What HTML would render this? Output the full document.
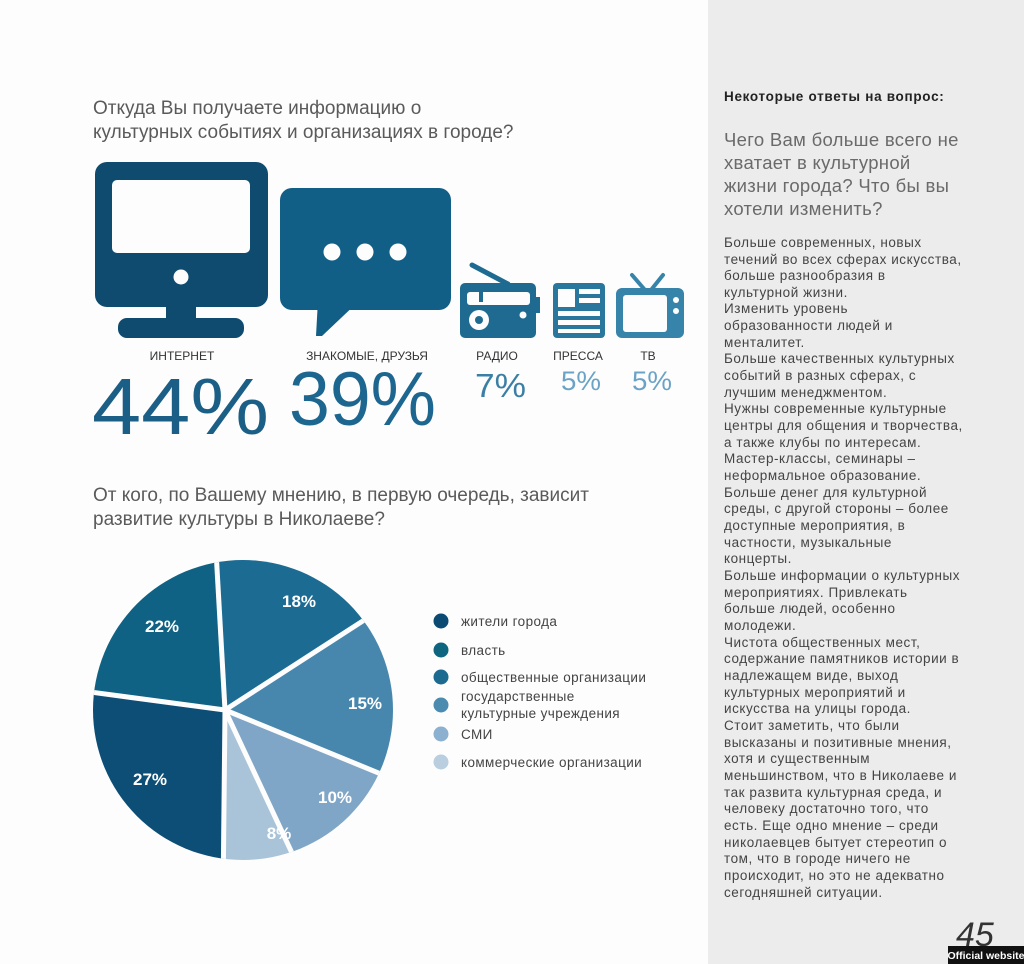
<!DOCTYPE html>
<html><head><meta charset="utf-8"><style>
html,body{margin:0;padding:0;background:#fdfdfd;}
svg{display:block;font-family:"Liberation Sans","DejaVu Sans",sans-serif;}
</style></head><body>
<svg width="1024" height="964" viewBox="0 0 1024 964" xmlns="http://www.w3.org/2000/svg">
<rect x="0" y="0" width="1024" height="964" fill="#fdfdfd"/>
<rect x="708" y="0" width="316" height="964" fill="#ececec"/>

<g fill="#5a5a5a" font-size="19">
<text x="93" y="114">Откуда Вы получаете информацию о</text>
<text x="93" y="138">культурных событиях и организациях в городе?</text>
<text x="93" y="501">От кого, по Вашему мнению, в первую очередь, зависит</text>
<text x="93" y="525">развитие культуры в Николаеве?</text>
</g>

<!-- Monitor -->
<rect x="95" y="162" width="173" height="145" rx="12" fill="#0e4b6e"/>
<rect x="112" y="180" width="138" height="73" rx="5" fill="#fdfdfd"/>
<circle cx="181" cy="277" r="7.5" fill="#fdfdfd"/>
<rect x="166" y="304" width="30" height="18" fill="#0e4b6e"/>
<rect x="118" y="318" width="126" height="20" rx="9" fill="#0e4b6e"/>

<!-- Speech bubble -->
<rect x="280" y="188" width="171" height="122" rx="12" fill="#115e86"/>
<polygon points="318,300 360,300 322,336 316,336" fill="#115e86"/>
<circle cx="332" cy="252" r="8.5" fill="#fdfdfd"/>
<circle cx="365" cy="252" r="8.5" fill="#fdfdfd"/>
<circle cx="398" cy="252" r="8.5" fill="#fdfdfd"/>

<!-- Radio -->
<line x1="472" y1="265" x2="508" y2="284" stroke="#1f6a91" stroke-width="5" stroke-linecap="round"/>
<rect x="460" y="283" width="76" height="55" rx="5" fill="#1f6a91"/>
<rect x="535" y="297" width="5" height="16" fill="#1f6a91"/>
<rect x="467" y="292" width="63" height="13" rx="3" fill="#fdfdfd"/>
<rect x="479" y="292" width="4" height="10" fill="#1f6a91"/>
<circle cx="479" cy="320" r="10" fill="#fdfdfd"/>
<circle cx="479" cy="320" r="4" fill="#1f6a91"/>
<circle cx="523" cy="315" r="3.5" fill="#fdfdfd"/>

<!-- Press -->
<rect x="553" y="283" width="52" height="55" rx="4" fill="#2a779e"/>
<rect x="558" y="289" width="17" height="18" fill="#fdfdfd"/>
<rect x="579" y="289" width="21" height="5" fill="#fdfdfd"/>
<rect x="579" y="298" width="21" height="5" fill="#fdfdfd"/>
<rect x="558" y="311" width="42" height="5" fill="#fdfdfd"/>
<rect x="558" y="320" width="42" height="5" fill="#fdfdfd"/>
<rect x="558" y="329" width="42" height="4" fill="#fdfdfd"/>

<!-- TV -->
<line x1="632" y1="275" x2="645" y2="290" stroke="#3784aa" stroke-width="4" stroke-linecap="round"/>
<line x1="663" y1="275" x2="651" y2="290" stroke="#3784aa" stroke-width="4" stroke-linecap="round"/>
<rect x="616" y="288" width="68" height="50" rx="6" fill="#3784aa"/>
<rect x="623" y="295" width="44" height="37" rx="3" fill="#fdfdfd"/>
<circle cx="676" cy="300" r="3" fill="#fdfdfd"/>
<circle cx="676" cy="311" r="3" fill="#fdfdfd"/>

<g fill="#333" font-size="12" text-anchor="middle">
<text x="182" y="360">ИНТЕРНЕТ</text>
<text x="367" y="360">ЗНАКОМЫЕ, ДРУЗЬЯ</text>
<text x="497" y="360">РАДИО</text>
<text x="578" y="360">ПРЕССА</text>
<text x="648" y="360">ТВ</text>
</g>
<text x="92" y="434" font-size="80" fill="#1b5f86" textLength="177" lengthAdjust="spacingAndGlyphs">44%</text>
<text x="289" y="425" font-size="76" fill="#1d668f" textLength="147" lengthAdjust="spacingAndGlyphs">39%</text>
<text x="475" y="397" font-size="33" fill="#3b7fa6" textLength="51" lengthAdjust="spacingAndGlyphs">7%</text>
<text x="561" y="390" font-size="27" fill="#6ba3c6" textLength="40" lengthAdjust="spacingAndGlyphs">5%</text>
<text x="632" y="390" font-size="27" fill="#6ba3c6" textLength="40" lengthAdjust="spacingAndGlyphs">5%</text>

<!-- Pie -->
<defs><clipPath id="pc"><circle cx="243" cy="710" r="150"/></clipPath></defs>
<g clip-path="url(#pc)">
<polygon points="225,710 212,480 420,480 420,584" fill="#1b6b93"/>
<polygon points="225,710 420,584 420,790" fill="#4887ad"/>
<polygon points="225,710 420,790 420,900 314,900" fill="#7fa6c6"/>
<polygon points="225,710 314,900 223,900" fill="#a9c4d8"/>
<polygon points="225,710 223,900 60,900 60,688" fill="#0d4e76"/>
<polygon points="225,710 60,688 60,480 212,480" fill="#0f6283"/>
<g stroke="#fdfdfd" stroke-width="5">
<line x1="225" y1="710" x2="212" y2="480"/>
<line x1="225" y1="710" x2="420" y2="584"/>
<line x1="225" y1="710" x2="420" y2="790"/>
<line x1="225" y1="710" x2="314" y2="900"/>
<line x1="225" y1="710" x2="223" y2="900"/>
<line x1="225" y1="710" x2="60" y2="688"/>
</g>
</g>
<g fill="#ffffff" font-size="17" font-weight="bold" text-anchor="middle">
<text x="299" y="607">18%</text>
<text x="162" y="632">22%</text>
<text x="365" y="709">15%</text>
<text x="150" y="785">27%</text>
<text x="335" y="803">10%</text>
<text x="279" y="839">8%</text>
</g>

<g font-size="13.5" fill="#444" letter-spacing="0.4">
<circle cx="441" cy="621" r="7.5" fill="#0b4a72"/><text x="461" y="626">жители города</text>
<circle cx="441" cy="650" r="7.5" fill="#0e6580"/><text x="461" y="655">власть</text>
<circle cx="441" cy="677" r="7.5" fill="#1c6a8f"/><text x="461" y="682">общественные организации</text>
<circle cx="441" cy="705" r="7.5" fill="#4c8bb0"/><text x="461" y="701">государственные</text><text x="461" y="718">культурные учреждения</text>
<circle cx="441" cy="734" r="7.5" fill="#8cb0cf"/><text x="461" y="739">СМИ</text>
<circle cx="441" cy="762" r="7.5" fill="#b9cedf"/><text x="461" y="767">коммерческие организации</text>
</g>

<text x="724" y="101" font-size="13.5" font-weight="bold" fill="#222" letter-spacing="0.7">Некоторые ответы на вопрос:</text>
<g font-size="18.5" fill="#6a6a6a" letter-spacing="0.3">
<text x="724" y="146">Чего Вам больше всего не</text>
<text x="724" y="169">хватает в культурной</text>
<text x="724" y="192">жизни города? Что бы вы</text>
<text x="724" y="215">хотели изменить?</text>
</g>
<g font-size="13.5" fill="#444" letter-spacing="0.55">
<text x="724" y="247">Больше современных, новых</text>
<text x="724" y="264">течений во всех сферах искусства,</text>
<text x="724" y="280">больше разнообразия в</text>
<text x="724" y="297">культурной жизни.</text>
<text x="724" y="313">Изменить уровень</text>
<text x="724" y="330">образованности людей и</text>
<text x="724" y="347">менталитет.</text>
<text x="724" y="363">Больше качественных культурных</text>
<text x="724" y="380">событий в разных сферах, с</text>
<text x="724" y="397">лучшим менеджментом.</text>
<text x="724" y="413">Нужны современные культурные</text>
<text x="724" y="430">центры для общения и творчества,</text>
<text x="724" y="447">а также клубы по интересам.</text>
<text x="724" y="463">Мастер-классы, семинары –</text>
<text x="724" y="480">неформальное образование.</text>
<text x="724" y="497">Больше денег для культурной</text>
<text x="724" y="513">среды, с другой стороны – более</text>
<text x="724" y="530">доступные мероприятия, в</text>
<text x="724" y="547">частности, музыкальные</text>
<text x="724" y="563">концерты.</text>
<text x="724" y="580">Больше информации о культурных</text>
<text x="724" y="597">мероприятиях. Привлекать</text>
<text x="724" y="613">больше людей, особенно</text>
<text x="724" y="630">молодежи.</text>
<text x="724" y="647">Чистота общественных мест,</text>
<text x="724" y="663">содержание памятников истории в</text>
<text x="724" y="680">надлежащем виде, выход</text>
<text x="724" y="697">культурных мероприятий и</text>
<text x="724" y="713">искусства на улицы города.</text>
<text x="724" y="730">Стоит заметить, что были</text>
<text x="724" y="747">высказаны и позитивные мнения,</text>
<text x="724" y="763">хотя и существенным</text>
<text x="724" y="780">меньшинством, что в Николаеве и</text>
<text x="724" y="797">так развита культурная среда, и</text>
<text x="724" y="813">человеку достаточно того, что</text>
<text x="724" y="830">есть. Еще одно мнение – среди</text>
<text x="724" y="847">николаевцев бытует стереотип о</text>
<text x="724" y="863">том, что в городе ничего не</text>
<text x="724" y="880">происходит, но это не адекватно</text>
<text x="724" y="897">сегодняшней ситуации.</text>
</g>
<text x="956" y="946" font-size="34" font-style="italic" fill="#333">45</text>
<rect x="948" y="946" width="76" height="18" fill="#111"/>
<text x="986" y="959" font-size="10.5" font-weight="bold" fill="#fff" text-anchor="middle">Official website</text>
</svg>
</body></html>
